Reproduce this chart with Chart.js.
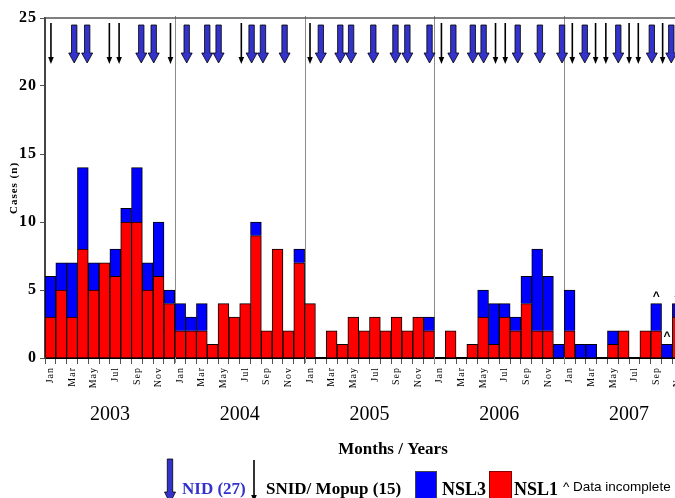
<!DOCTYPE html>
<html>
<head>
<meta charset="utf-8">
<script src="https://cdn.jsdelivr.net/npm/chart.js@4.4.1/dist/chart.umd.min.js"></script>
<style>
  html, body { margin: 0; padding: 0; background: #fff; overflow: hidden; }
  #wrap { width: 720px; height: 498px; }
</style>
</head>
<body>
<div id="wrap"><canvas id="casesChart" width="720" height="498"></canvas></div>
<script>
const monthNames = ["Jan", "Feb", "Mar", "Apr", "May", "Jun", "Jul", "Aug", "Sep", "Oct", "Nov", "Dec"];
const years = ["2003", "2004", "2005", "2006", "2007"];
const months = years.flatMap(() => monthNames);

// NSL1 (red, bottom of stack)
const nsl1 = [
  3, 5, 3, 8, 5, 7, 6, 10, 10, 5, 6, 4,
  2, 2, 2, 1, 4, 3, 4, 9, 2, 8, 2, 7,
  4, 0, 2, 1, 3, 2, 3, 2, 3, 2, 3, 2,
  0, 2, 0, 1, 3, 1, 3, 2, 4, 2, 2, 0,
  2, 0, 0, 0, 1, 2, 0, 2, 2, 0, 3, 0
];
// NSL3 (blue, on top)
const nsl3 = [
  3, 2, 4, 6, 2, 0, 2, 1, 4, 2, 4, 1,
  2, 1, 2, 0, 0, 0, 0, 1, 0, 0, 0, 1,
  0, 0, 0, 0, 0, 0, 0, 0, 0, 0, 0, 1,
  0, 0, 0, 0, 2, 3, 1, 1, 2, 6, 4, 1,
  3, 1, 1, 0, 1, 0, 0, 0, 2, 1, 1, 0
];
// months where data is incomplete (^)
const incomplete = [56, 57, 58];

// campaign arrows, as month index (0 = Jan 2003)
const nidArrows = [2.2, 3.4, 8.4, 9.55, 12.6, 14.5, 15.55, 18.6, 19.65, 21.65,
  25.0, 26.8, 27.8, 29.85, 31.9, 33.0, 35.05, 37.25, 39.05, 40.05, 43.2, 45.25, 47.3,
  49.4, 52.5, 55.6, 57.4];
const snidArrows = [0.05, 5.45, 6.35, 11.1, 17.65, 24.0, 36.15, 41.15, 42.05,
  48.25, 50.4, 51.35, 53.5, 54.35, 56.6];

const serif = "'Liberation Serif', 'Times New Roman', serif";
const sans = "'Liberation Sans', Arial, sans-serif";
const nidBlue = '#3333cc';

function blueArrow(ctx, x, top, headTop, tip) {
  ctx.beginPath();
  ctx.moveTo(x - 2.7, top);
  ctx.lineTo(x + 2.7, top);
  ctx.lineTo(x + 2.7, headTop);
  ctx.lineTo(x + 5.5, headTop);
  ctx.lineTo(x, tip);
  ctx.lineTo(x - 5.5, headTop);
  ctx.lineTo(x - 2.7, headTop);
  ctx.closePath();
  ctx.fillStyle = nidBlue;
  ctx.fill();
  ctx.lineWidth = 0.8;
  ctx.strokeStyle = '#000';
  ctx.stroke();
}

function blackArrow(ctx, x, top, tip) {
  ctx.beginPath();
  ctx.moveTo(x, top);
  ctx.lineTo(x, tip - 6);
  ctx.lineWidth = 1.6;
  ctx.strokeStyle = '#000';
  ctx.stroke();
  ctx.beginPath();
  ctx.moveTo(x - 2.8, tip - 7);
  ctx.lineTo(x + 2.8, tip - 7);
  ctx.lineTo(x, tip);
  ctx.closePath();
  ctx.fillStyle = '#000';
  ctx.fill();
}

const decorations = {
  id: 'decorations',
  beforeDraw(chart) {
    chart.ctx.letterSpacing = '1px';
  },
  beforeDatasetsDraw(chart) {
    const ctx = chart.ctx;
    ctx.letterSpacing = '0px';
    const area = chart.chartArea;
    const x = chart.scales.x;
    const w = x.getPixelForValue(1) - x.getPixelForValue(0);
    ctx.save();
    // year separators
    ctx.strokeStyle = '#8c8c8c';
    ctx.lineWidth = 1;
    for (let i = 12; i < months.length; i += 12) {
      const px = Math.round(x.getPixelForValue(i) - w / 2) + 0.5;
      ctx.beginPath();
      ctx.moveTo(px, area.top - 2);
      ctx.lineTo(px, area.bottom + 5);
      ctx.stroke();
    }
    // top frame
    ctx.strokeStyle = '#555';
    ctx.lineWidth = 1.5;
    ctx.beginPath();
    ctx.moveTo(area.left, area.top);
    ctx.lineTo(area.right, area.top);
    ctx.stroke();
    ctx.restore();
  },
  afterDraw(chart) {
    const ctx = chart.ctx;
    const x = chart.scales.x;
    const y = chart.scales.y;
    const x0 = x.getPixelForValue(0);
    const w = x.getPixelForValue(1) - x0;
    ctx.save();
    ctx.letterSpacing = '0px';

    nidArrows.forEach(m => blueArrow(ctx, x0 + m * w, 25, 53, 63));
    snidArrows.forEach(m => blackArrow(ctx, x0 + m * w, 23, 64));

    // data incomplete markers
    ctx.fillStyle = '#000';
    ctx.font = 'bold 12px ' + sans;
    ctx.textAlign = 'center';
    ctx.textBaseline = 'alphabetic';
    incomplete.forEach(i => {
      const top = y.getPixelForValue(nsl1[i] + nsl3[i]);
      ctx.fillText('^', x.getPixelForValue(i), top - 4);
    });

    // year labels
    ctx.font = '20px ' + serif;
    ctx.textBaseline = 'middle';
    years.forEach((yr, k) => {
      const cx = (x.getPixelForValue(k * 12) + x.getPixelForValue(k * 12 + 11)) / 2;
      ctx.fillText(yr, cx, 415);
    });

    ctx.font = 'bold 17px ' + serif;
    ctx.fillText('Months / Years', 393, 450);

    // legend
    blueArrow(ctx, 170, 459, 492, 503);
    blackArrow(ctx, 254, 460, 502);
    ctx.textAlign = 'left';
    ctx.textBaseline = 'alphabetic';
    ctx.font = 'bold 17px ' + serif;
    ctx.fillStyle = nidBlue;
    ctx.fillText('NID (27)', 182, 494);
    ctx.fillStyle = '#000';
    ctx.fillText('SNID/ Mopup (15)', 266, 494);

    ctx.lineWidth = 1;
    ctx.strokeStyle = '#444';
    ctx.fillStyle = '#0000ff';
    ctx.fillRect(415, 471, 22, 30);
    ctx.strokeRect(415.5, 471.5, 21, 30);
    ctx.fillStyle = '#000';
    ctx.font = 'bold 18px ' + serif;
    ctx.fillText('NSL3', 442, 495);
    ctx.fillStyle = '#ff0000';
    ctx.fillRect(489, 471, 23, 30);
    ctx.strokeStyle = '#800';
    ctx.strokeRect(489.5, 471.5, 22, 30);
    ctx.fillStyle = '#000';
    ctx.fillText('NSL1', 514, 495);
    ctx.font = '13.5px ' + sans;
    ctx.fillText('^ Data incomplete', 563, 491);
    ctx.restore();
  }
};

new Chart(document.getElementById('casesChart').getContext('2d'), {
  type: 'bar',
  data: {
    labels: months,
    datasets: [
      {
        label: 'NSL1',
        data: nsl1,
        backgroundColor: '#ff0000',
        borderColor: '#000',
        borderWidth: 1,
        barPercentage: 1,
        categoryPercentage: 1
      },
      {
        label: 'NSL3',
        data: nsl3,
        backgroundColor: '#0000ff',
        borderColor: '#000',
        borderWidth: 1,
        barPercentage: 1,
        categoryPercentage: 1
      }
    ]
  },
  options: {
    responsive: false,
    animation: false,
    layout: { padding: { top: 18, right: 26, left: 0, bottom: 0 } },
    scales: {
      x: {
        stacked: true,
        grid: { offset: true, drawOnChartArea: false, tickLength: 6, color: '#555' },
        border: { color: '#000', width: 2 },
        ticks: {
          autoSkip: false,
          minRotation: 90,
          maxRotation: 90,
          padding: 3,
          color: '#000',
          font: { family: serif, size: 10 },
          callback: (v, i) => (i % 2 === 0 ? months[i] : '')
        },
        afterFit: s => { s.height = 140; }
      },
      y: {
        stacked: true,
        min: 0,
        max: 25,
        grid: { drawOnChartArea: false, tickLength: 5, color: '#555' },
        border: { color: '#444', width: 2 },
        ticks: {
          stepSize: 5,
          padding: 3,
          color: '#000',
          font: { family: serif, size: 16, weight: 'bold' }
        },
        title: {
          display: true,
          text: 'Cases (n)',
          color: '#000',
          padding: { top: 8, bottom: 0 },
          font: { family: serif, size: 11, weight: 'bold' }
        },
        afterFit: s => { s.width = 45; }
      }
    },
    plugins: {
      legend: { display: false },
      tooltip: { enabled: false }
    }
  },
  plugins: [decorations]
});
</script>
</body>
</html>
